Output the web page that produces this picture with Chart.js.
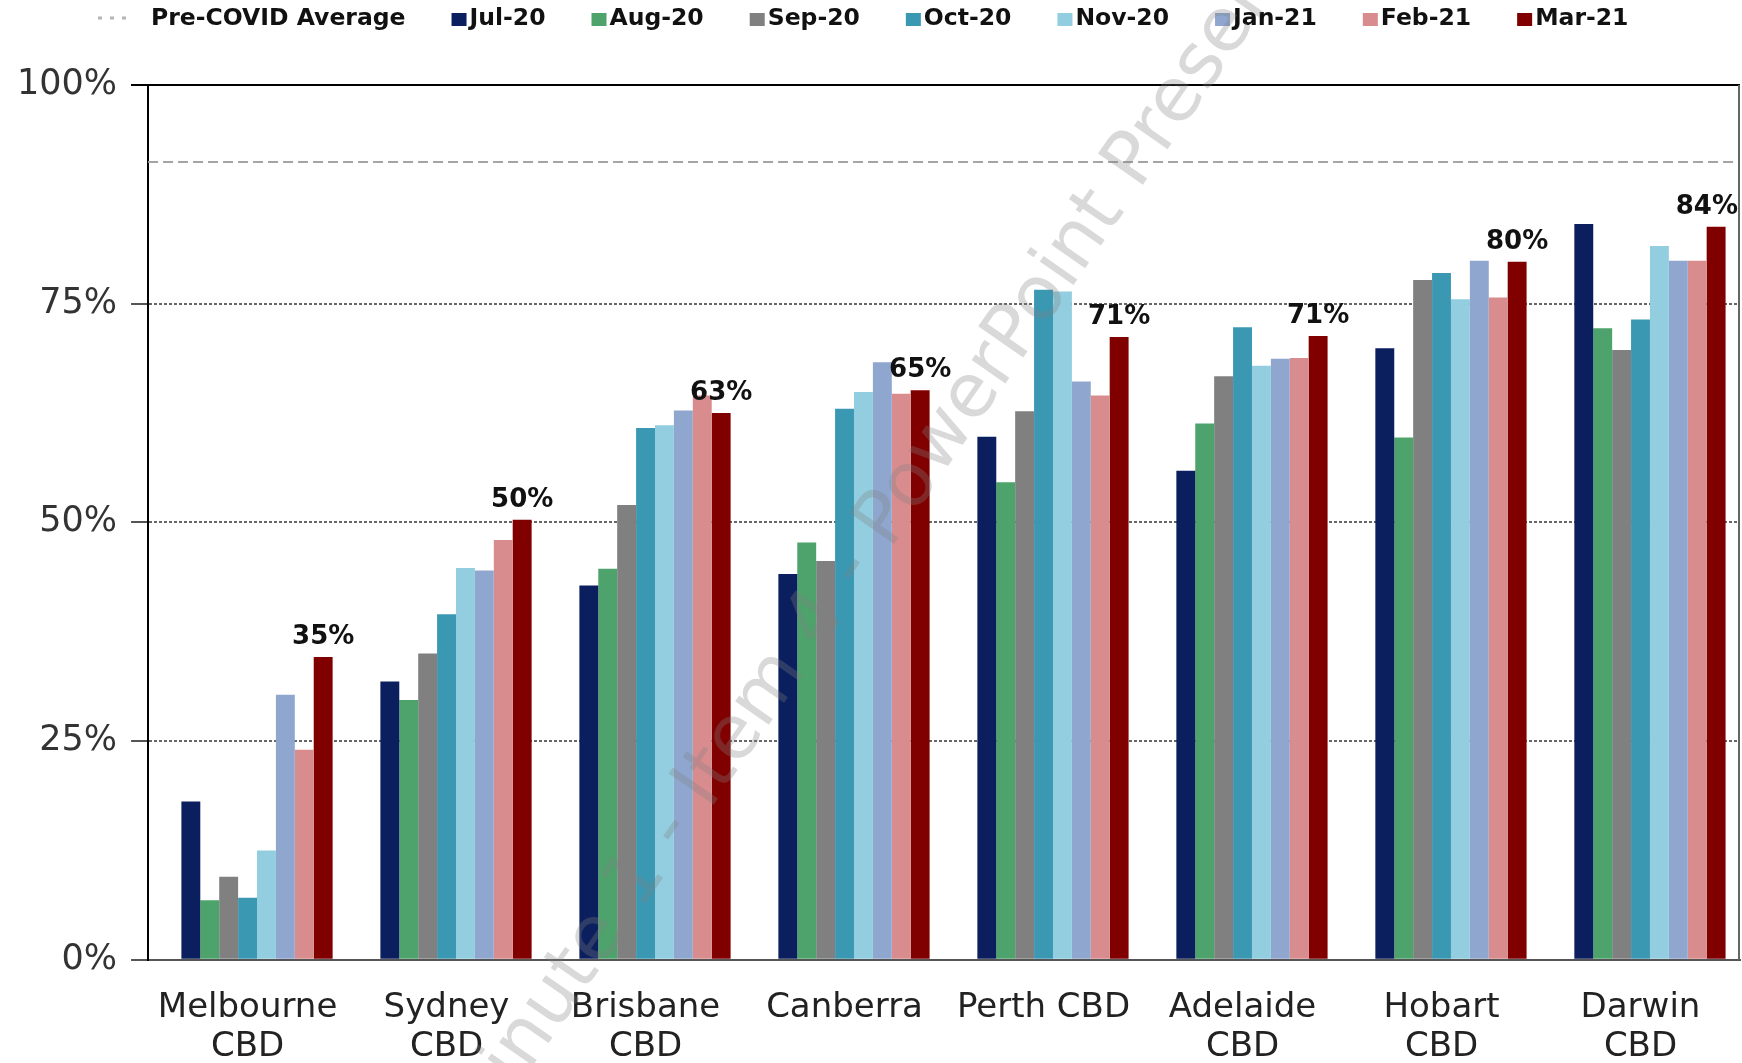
<!DOCTYPE html>
<html>
<head>
<meta charset="utf-8">
<script src="https://cdn.jsdelivr.net/npm/chart.js@4.4.0/dist/chart.umd.min.js"></script>
<style>
  html, body { margin: 0; padding: 0; background: #fff; overflow: hidden; }
  #wrap { width: 1742px; height: 1063px; position: relative; }
</style>
</head>
<body>
<div id="wrap"><canvas id="grafico"></canvas></div>
<script>
// ================= DADOS =================
const categorias = [
  ['Melbourne', 'CBD'], ['Sydney', 'CBD'], ['Brisbane', 'CBD'], 'Canberra',
  'Perth CBD', ['Adelaide', 'CBD'], ['Hobart', 'CBD'], ['Darwin', 'CBD']
];
const meses = ['Jul-20', 'Aug-20', 'Sep-20', 'Oct-20', 'Nov-20', 'Jan-21', 'Feb-21', 'Mar-21'];

const jul20 = [18.1, 31.8, 42.8, 44.1, 59.8, 55.9, 69.9, 84.1];
const aug20 = [6.8, 29.7, 44.7, 47.7, 54.6, 61.3, 59.7, 72.2];
const sep20 = [9.5, 35.0, 52.0, 45.6, 62.7, 66.7, 77.7, 69.7];
const oct20 = [7.1, 39.5, 60.8, 63.0, 76.6, 72.3, 78.5, 73.2];
const nov20 = [12.5, 44.8, 61.1, 64.9, 76.4, 67.9, 75.5, 81.6];
const jan21 = [30.3, 44.5, 62.8, 68.3, 66.1, 68.7, 79.9, 79.9];
const feb21 = [24.0, 48.0, 64.5, 64.7, 64.5, 68.8, 75.7, 79.9];
const mar21 = [34.6, 50.3, 62.5, 65.1, 71.2, 71.3, 79.8, 83.8];

const mediaPreCovid = 91.2;
const legendaPreCovid = 'Pre-COVID Average';
const ticksY = [0, 25, 50, 75, 100];
const marcaDagua = ['Minute 1 - Item 4 - ', 'PowerPoint Presentation'];

const series = [jul20, aug20, sep20, oct20, nov20, jan21, feb21, mar21];
const cores = ['#0b1f5e', '#4da36b', '#808080', '#3a98b3', '#93cde0', '#8fa7cf', '#d98c8e', '#800000'];

Chart.defaults.font.family = '"DejaVu Sans", Verdana, sans-serif';

// ================= LINHA PRE-COVID + MOLDURA =================
const linhasExtras = {
  id: 'linhasExtras',
  beforeDatasetsDraw(chart) {
    const { ctx, chartArea: a, scales: { y } } = chart;
    const py = y.getPixelForValue(mediaPreCovid);
    ctx.save();
    ctx.strokeStyle = '#a4a4a4';
    ctx.lineWidth = 2;
    ctx.setLineDash([10, 5]);
    ctx.beginPath();
    ctx.moveTo(a.left, py);
    ctx.lineTo(a.right, py);
    ctx.stroke();
    ctx.restore();
  },
  afterDatasetsDraw(chart) {
    const { ctx, chartArea: a } = chart;
    ctx.save();
    // moldura: topo preto, lado direito cinza
    ctx.lineWidth = 2;
    ctx.strokeStyle = '#000';
    ctx.beginPath();
    ctx.moveTo(a.left - 17, a.top);
    ctx.lineTo(a.right, a.top);
    ctx.stroke();
    ctx.strokeStyle = '#666';
    ctx.beginPath();
    ctx.moveTo(a.right - 1, a.top);
    ctx.lineTo(a.right - 1, a.bottom);
    ctx.stroke();

    // rótulos de Mar-21
    const idx = chart.data.datasets.findIndex(d => d.label === 'Mar-21');
    const meta = chart.getDatasetMeta(idx);
    ctx.font = 'bold 26px "DejaVu Sans"';
    ctx.fillStyle = '#111';
    ctx.textAlign = 'center';
    ctx.textBaseline = 'alphabetic';
    meta.data.forEach((barra, i) => {
      const txt = Math.round(mar21[i]) + '%';
      const w = ctx.measureText(txt).width;
      const x = Math.min(barra.x, chart.width - 4 - w / 2);
      ctx.fillText(txt, x, barra.y - 13);
    });
    ctx.restore();
  }
};

// ================= LEGENDA =================
const legendaTopo = {
  id: 'legendaTopo',
  afterDraw(chart) {
    const ctx = chart.ctx;
    const y = 19;
    ctx.save();
    ctx.font = 'bold 23.5px "DejaVu Sans"';
    ctx.textBaseline = 'middle';

    const texto = (t, x) => {
      ctx.fillStyle = '#111';
      ctx.fillText(t, x, y);
      return ctx.measureText(t).width;
    };

    let x = 98;
    ctx.strokeStyle = '#b5b5b5';
    ctx.lineWidth = 3;
    ctx.setLineDash([4, 8]);
    ctx.beginPath();
    ctx.moveTo(x, y - 1);
    ctx.lineTo(x + 36, y - 1);
    ctx.stroke();
    ctx.setLineDash([]);
    x = 151;
    x += texto(legendaPreCovid, x) + 46;

    meses.forEach((m, i) => {
      ctx.fillStyle = cores[i];
      ctx.fillRect(x, y - 6, 15, 13);
      x += 18;
      x += texto(m, x) + 46;
    });
    ctx.restore();
  }
};

// ================= MARCA D'ÁGUA =================
const marcaDaguaPlugin = {
  id: 'marcaDagua',
  afterDraw(chart) {
    const ctx = chart.ctx;
    ctx.save();
    ctx.translate(890, 550);
    ctx.rotate(-55.3 * Math.PI / 180);
    ctx.font = '75px "DejaVu Sans"';
    ctx.fillStyle = 'rgba(128,128,128,0.3)';
    ctx.textBaseline = 'alphabetic';
    ctx.textAlign = 'right';
    ctx.fillText(marcaDagua[0], 0, 0);
    ctx.textAlign = 'left';
    ctx.fillText(marcaDagua[1], 0, 0);
    ctx.restore();
  }
};

// ================= GRÁFICO =================
// um espaço vazio no início de cada grupo desloca as barras um pouco para a direita, como no original
const espaco = { label: '', data: categorias.map(() => null), backgroundColor: 'rgba(0,0,0,0)' };

new Chart(document.getElementById('grafico'), {
  type: 'bar',
  data: {
    labels: categorias,
    datasets: [espaco].concat(meses.map((m, i) => ({
      label: m,
      data: series[i],
      backgroundColor: cores[i],
      borderWidth: 0
    })))
  },
  options: {
    responsive: true,
    maintainAspectRatio: false,
    animation: false,
    datasets: { bar: { categoryPercentage: 0.855, barPercentage: 1.0 } },
    layout: { padding: { top: 85, left: 3, right: 2, bottom: -33 } },
    plugins: {
      legend: { display: false },
      tooltip: { enabled: false }
    },
    scales: {
      x: {
        grid: { display: false, drawTicks: false },
        border: { display: true, color: '#555', width: 2 },
        ticks: {
          font: { size: 34, lineHeight: 1.15 },
          color: '#222',
          padding: 29,
          maxRotation: 0,
          autoSkip: false
        }
      },
      y: {
        min: 0,
        max: 100,
        afterBuildTicks: s => { s.ticks = ticksY.map(v => ({ value: v })); },
        ticks: {
          callback: v => v + '%',
          font: { size: 35 },
          color: '#333',
          padding: 14
        },
        grid: {
          color: c => (c.tick && (c.tick.value === 0 || c.tick.value === 100)) ? 'rgba(0,0,0,0)' : '#666',
          lineWidth: 2,
          tickLength: 17,
          tickColor: c => (c.tick && c.tick.value === 100) ? '#000' : '#555'
        },
        border: { color: '#000', width: 2, dash: [3, 2] }
      }
    }
  },
  plugins: [linhasExtras, legendaTopo, marcaDaguaPlugin]
});
</script>
</body>
</html>
